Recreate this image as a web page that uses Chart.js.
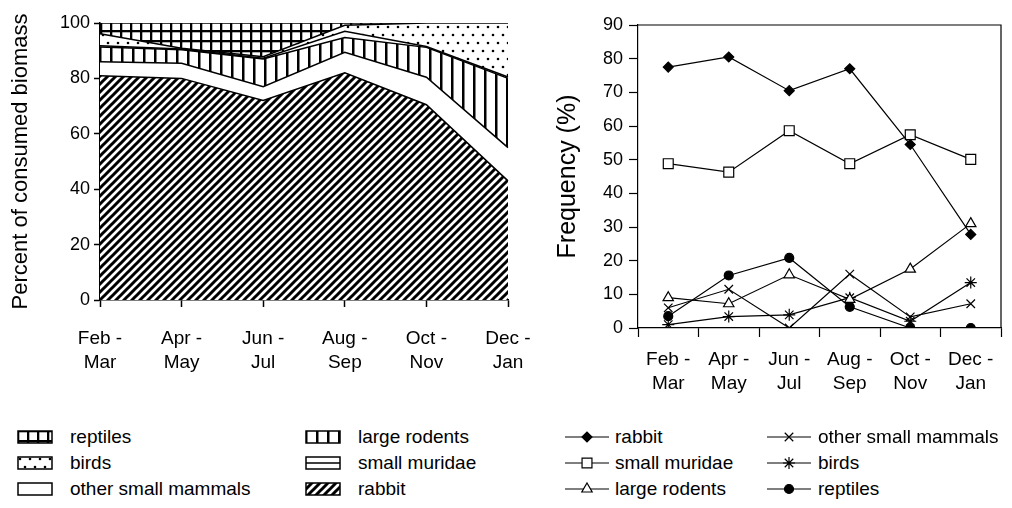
<!DOCTYPE html>
<html><head><meta charset="utf-8">
<script src="https://cdn.jsdelivr.net/npm/chart.js@4/dist/chart.umd.min.js"></script>
<style>
body{margin:0;background:#fff;width:1012px;height:508px;overflow:hidden;position:relative;font-family:"Liberation Sans",Arial,sans-serif;color:#000;}
#c1{position:absolute;left:0;top:0;}
#c2{position:absolute;left:520px;top:0;}
.leg{position:absolute;font-size:19px;line-height:22px;white-space:nowrap;}
.sw{position:absolute;}
</style></head>
<body>
<canvas id="c1" width="570" height="400"></canvas>
<canvas id="c2" width="492" height="420"></canvas>
<div id="legends"></div>
<script>
// ---------- data ----------
const categories = [["Feb -","Mar"],["Apr -","May"],["Jun -","Jul"],["Aug -","Sep"],["Oct -","Nov"],["Dec -","Jan"]];

// Left: percent of consumed biomass (stacked, bottom to top)
const bioRabbit            = [81, 80, 72, 82, 70.5, 43];
const bioSmallMuridae      = [5, 5.5, 5, 7.4, 9.9, 12];
const bioLargeRodents      = [5.3, 4.8, 10, 5.4, 10.8, 25];
const bioOtherSmallMammals = [0.5, 0.3, 0.3, 2.2, 0.3, 0.5];
const bioBirds             = [4.3, 0.3, 0.5, 2.2, 8.5, 19.5];
const bioReptiles          = [3.9, 9.1, 12.2, 0.8, 0, 0];
const bioTicks = [0, 20, 40, 60, 80, 100];

// Right: frequency (%)
const freqRabbit            = [77.5, 80.5, 70.5, 77, 54.5, 27.8];
const freqSmallMuridae      = [48.8, 46.3, 58.6, 48.8, 57.4, 50.1];
const freqLargeRodents      = [9, 7.2, 15.8, 8.5, 17.5, 31];
const freqOtherSmallMammals = [6, 11.5, 0, 16, 3.3, 7.2];
const freqBirds             = [1, 3.4, 3.9, 9, 2, 13.5];
const freqReptiles          = [3.5, 15.6, 20.8, 6.3, 0, 0];
const freqTicks = [0,10,20,30,40,50,60,70,80,90];

// ---------- patterns ----------
function makePattern(w, h, draw) {
  const c = document.createElement('canvas'); c.width = w; c.height = h;
  const g = c.getContext('2d'); g.fillStyle = '#fff'; g.fillRect(0,0,w,h);
  g.strokeStyle = '#000'; g.fillStyle = '#000'; draw(g, w, h);
  return c;
}
const tileDiag = makePattern(8, 8, (g,s)=>{ g.lineWidth = 3; g.beginPath();
  g.moveTo(-2, s+2); g.lineTo(s+2, -2); g.moveTo(-2, 2); g.lineTo(2, -2); g.moveTo(s-2, s+2); g.lineTo(s+2, s-2); g.stroke(); });
const tileVert = makePattern(11, 11, (g,w,h)=>{ g.fillRect(0,0,2.5,h); });
const tileGrid = makePattern(10, 10, (g,w,h)=>{ g.fillRect(0,0,2.3,h); g.fillRect(0,0,w,2.3); });
const tileDots = makePattern(20, 16, (g)=>{ [[3,3],[13,3],[8,11],[18,11]].forEach(p=>{g.beginPath(); g.arc(p[0],p[1],1.3,0,Math.PI*2); g.fill();}); });

const ctx1 = document.getElementById('c1').getContext('2d');
const pat = t => ctx1.createPattern(t, 'repeat');

Chart.defaults.font.family = "'Liberation Sans', Arial, sans-serif";
Chart.defaults.color = '#000';

const areaStyle = (label, data, fill, bg) => ({label, data, fill, backgroundColor: bg,
  borderColor:'#000', borderWidth:1.5, pointRadius:0, tension:0});

new Chart(ctx1, {
  type: 'line',
  data: { labels: categories, datasets: [
    areaStyle('rabbit', bioRabbit, 'origin', pat(tileDiag)),
    areaStyle('small muridae', bioSmallMuridae, '-1', '#fff'),
    areaStyle('large rodents', bioLargeRodents, '-1', pat(tileVert)),
    areaStyle('other small mammals', bioOtherSmallMammals, '-1', '#fff'),
    areaStyle('birds', bioBirds, '-1', pat(tileDots)),
    areaStyle('reptiles', bioReptiles, '-1', pat(tileGrid))
  ]},
  options: {
    responsive:false, animation:false, devicePixelRatio:1,
    plugins:{legend:{display:false}, tooltip:{enabled:false}},
    layout:{padding:{top:23, right:62, left:0, bottom:0}},
    scales:{
      x:{ offset:false,
        grid:{display:true, drawOnChartArea:false, drawTicks:true, tickLength:7, tickColor:'#000', tickWidth:1.5},
        border:{display:true, color:'#000', width:1.5},
        ticks:{font:{size:19, lineHeight:1.3}, color:'#000', padding:19, maxRotation:0, autoSkip:false},
        afterFit(s){ s.height = 100; } },
      y:{ stacked:true, min:0, max:100, afterBuildTicks(s){ s.ticks = bioTicks.map(v=>({value:v})); },
        grid:{display:true, drawOnChartArea:false, drawTicks:true, tickLength:6, tickColor:'#000', tickWidth:1.5},
        border:{display:true, color:'#000', width:1.5},
        ticks:{font:{size:18}, color:'#000', padding:4},
        title:{display:true, text:'Percent of consumed biomass', font:{size:22}, color:'#000', padding:{top:8,bottom:0}},
        afterFit(s){ s.width = 100; } }
    }
  }
});

// ---------- right chart ----------
const framePlugin = { id:'frame', afterDraw(ch){ const a = ch.chartArea, g = ch.ctx; g.save();
  g.strokeStyle='#000'; g.lineWidth=1.2; g.beginPath(); g.moveTo(a.left, a.top); g.lineTo(a.right, a.top); g.lineTo(a.right, a.bottom); g.stroke(); g.restore(); } };

const lineStyle = (label, data, style, radius, filled) => ({label, data, borderColor:'#000', borderWidth:1.2,
  pointStyle:style, pointRadius:radius, pointBorderColor:'#000', pointBorderWidth:1.2,
  pointBackgroundColor: filled ? '#000' : '#fff', fill:false, tension:0});

const freqSets = [
  ['rabbit', freqRabbit, 'rectRot', 5, true],
  ['small muridae', freqSmallMuridae, 'rect', 7, false],
  ['large rodents', freqLargeRodents, 'triangle', 6, false],
  ['other small mammals', freqOtherSmallMammals, 'crossRot', 6, false],
  ['birds', freqBirds, 'star', 6, false],
  ['reptiles', freqReptiles, 'circle', 4.5, true]
];

new Chart(document.getElementById('c2').getContext('2d'), {
  type:'line',
  data:{ labels: categories, datasets: freqSets.map(d=>lineStyle(...d)) },
  options:{
    responsive:false, animation:false, devicePixelRatio:1,
    plugins:{legend:{display:false}, tooltip:{enabled:false}},
    layout:{padding:{top:25, right:11, left:0, bottom:0}},
    scales:{
      x:{ offset:true,
        grid:{display:true, offset:true, drawOnChartArea:false, drawTicks:true, tickLength:9, tickColor:'#000', tickWidth:1.2},
        border:{display:true, color:'#000', width:1.2},
        ticks:{font:{size:19, lineHeight:1.3}, color:'#000', padding:10, maxRotation:0, autoSkip:false},
        afterFit(s){ s.height = 92; } },
      y:{ min:0, max:90, afterBuildTicks(s){ s.ticks = freqTicks.map(v=>({value:v})); },
        grid:{display:true, drawOnChartArea:false, drawTicks:true, tickLength:9, tickColor:'#000', tickWidth:1.2},
        border:{display:true, color:'#000', width:1.2},
        ticks:{font:{size:18}, color:'#000', padding:6},
        title:{display:true, text:'Frequency (%)', font:{size:25}, color:'#000', padding:{top:33,bottom:0}},
        afterFit(s){ s.width = 118; } }
    }
  },
  plugins:[framePlugin]
});

// ---------- legends ----------
const L = document.getElementById('legends');
function addText(x, yc, text){ const d=document.createElement('div'); d.className='leg'; d.textContent=text;
  d.style.left=x+'px'; d.style.top=(yc-11)+'px'; L.appendChild(d); }
function addSwatch(x, yc, w, h, draw){ const c=document.createElement('canvas'); c.width=w; c.height=h; c.className='sw';
  c.style.left=x+'px'; c.style.top=(yc-h/2)+'px'; L.appendChild(c); draw(c.getContext('2d'), w, h); }

function boxSwatch(tile, extra){ return (g,w,h)=>{ if(tile){ g.fillStyle=g.createPattern(tile,'repeat'); g.fillRect(1,1,w-2,h-2);} 
  g.strokeStyle='#000'; g.lineWidth=1.5; g.strokeRect(1,1,w-2,h-2); if(extra) extra(g,w,h); }; }

const leftLegend = [
  [17, 70, 437, 'reptiles', boxSwatch(tileGrid)],
  [17, 70, 463, 'birds', boxSwatch(tileDots)],
  [17, 70, 489, 'other small mammals', boxSwatch(null)],
  [305, 358, 437, 'large rodents', boxSwatch(tileVert)],
  [305, 358, 463, 'small muridae', boxSwatch(null, (g,w,h)=>{g.fillStyle='#000'; g.fillRect(1,h/2-0.75,w-2,1.5);})],
  [305, 358, 489, 'rabbit', boxSwatch(tileDiag)]
];
leftLegend.forEach(([sx, tx, y, t, dr])=>{ addSwatch(sx, y, 36, 14, dr); addText(tx, y, t); });

const rightLegend = [
  [565, 615, 437, 0], [565, 615, 463, 1], [565, 615, 489, 2],
  [767, 818, 437, 3], [767, 818, 463, 4], [767, 818, 489, 5]
];
rightLegend.forEach(([sx, tx, y, i])=>{
  const d = freqSets[i];
  addSwatch(sx, y, 44, 18, (g,w,h)=>{
    g.strokeStyle='#000'; g.lineWidth=1.2; g.beginPath(); g.moveTo(0,h/2); g.lineTo(w,h/2); g.stroke();
    g.fillStyle = d[4] ? '#000' : '#fff';
    if (Chart.helpers && Chart.helpers.drawPoint) {
      Chart.helpers.drawPoint(g, {pointStyle:d[2], radius:d[3], rotation:0, borderWidth:1.2}, w/2, h/2);
    }
  });
  addText(tx, y, d[0]);
});
</script>
</body></html>
